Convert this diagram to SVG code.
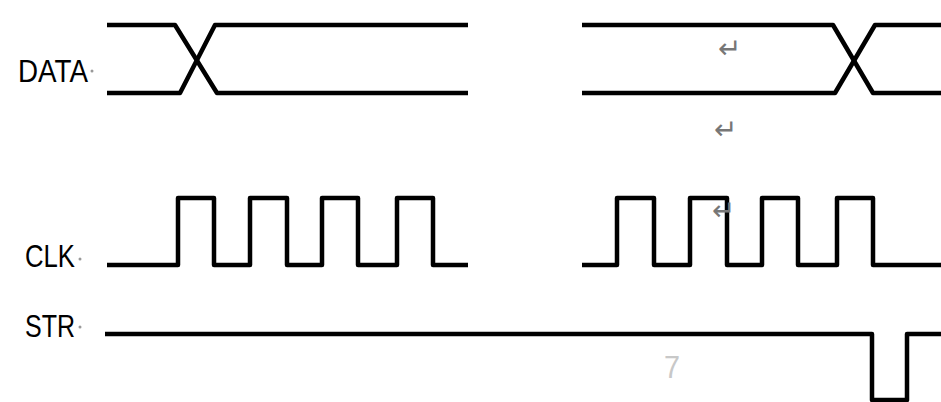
<svg xmlns="http://www.w3.org/2000/svg" width="941" height="402" viewBox="0 0 941 402">
<style>
.w{fill:none;stroke:#000;stroke-width:4.5;stroke-linejoin:round;stroke-linecap:butt}
.lbl{font-family:"Liberation Sans",Arial,sans-serif;font-size:32px;fill:#000}
.dot{fill:#999}
.pm{font-family:"DejaVu Sans",sans-serif;font-size:28px;fill:#777}
.faint{font-family:"Liberation Sans",Arial,sans-serif;font-size:32px;fill:#c8c8c8}
</style>
<rect width="941" height="402" fill="#fff"/>
<g id="label-data"><text class="lbl" x="18" y="82" textLength="70" lengthAdjust="spacingAndGlyphs">DATA</text><circle class="dot" cx="92" cy="71" r="1.5"/></g>
<g id="label-clk"><text class="lbl" x="25" y="267" textLength="50" lengthAdjust="spacingAndGlyphs">CLK</text><circle class="dot" cx="80" cy="259" r="1.5"/></g>
<g id="label-str"><text class="lbl" x="25" y="337" textLength="50" lengthAdjust="spacingAndGlyphs">STR</text><circle class="dot" cx="80" cy="327" r="1.5"/></g>
<g id="connectors">
<g id="data-left">
<polyline class="w" points="107,25 175,25 217,93 468,93"/>
<polyline class="w" points="107,93 180,93 215,25 468,25"/>
</g>
<g id="data-right">
<polyline class="w" points="582,25 833,25 873,93 941,93"/>
<polyline class="w" points="582,93 835,93 875,25 941,25"/>
</g>
<g id="clk-left">
<polyline class="w" points="107,265 178,265 178,198 214,198 214,265 250,265 250,198 287,198 287,265 322,265 322,198 358,198 358,265 397,265 397,198 433,198 433,265 468,265"/>
</g>
<g id="clk-right">
<polyline class="w" points="582,265 617,265 617,198 654,198 654,265 690,265 690,198 727,198 727,265 762,265 762,198 798,198 798,265 837,265 837,198 873,198 873,265 941,265"/>
</g>
<g id="str">
<polyline class="w" points="105,334 872,334 872,400 907,400 907,334 941,334"/>
</g>
</g>
<g id="marks">
<text class="pm" x="718" y="58">↵</text>
<text class="pm" x="714" y="139">↵</text>
<text class="pm" x="712" y="220">↵</text>
<text class="faint" x="664" y="378" textLength="16" lengthAdjust="spacingAndGlyphs">7</text>
</g>
</svg>
